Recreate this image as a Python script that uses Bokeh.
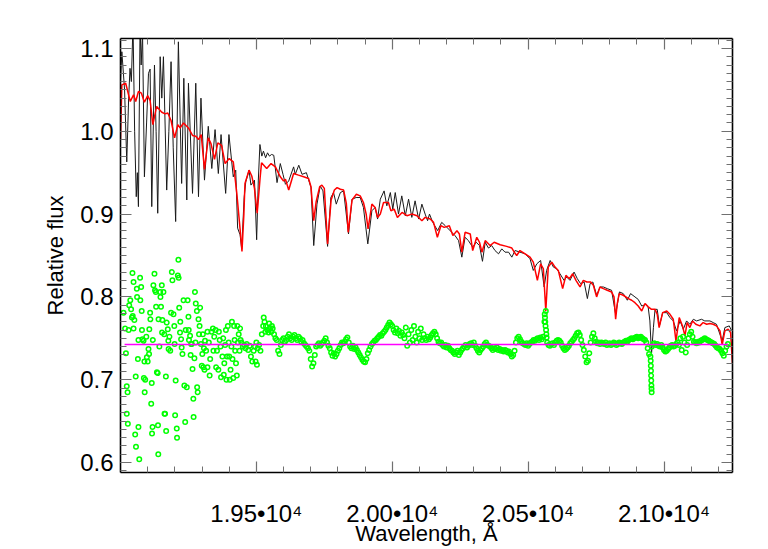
from bokeh.plotting import figure
from bokeh.models import Range1d, LinearAxis, FixedTicker
from bokeh.embed import file_html
from bokeh.resources import INLINE

# ---------------- data ----------------
# observed spectrum (black)
obs_wl = [19000, 19005, 19015, 19023, 19030, 19035, 19040, 19046, 19052, 19058,
          19062, 19066, 19072, 19076, 19081, 19088, 19096, 19103, 19109, 19115,
          19125, 19131, 19137, 19146, 19152, 19158, 19170, 19178, 19186, 19194,
          19203, 19213, 19225, 19233, 19244, 19250, 19265, 19277, 19287, 19296,
          19309, 19323, 19336, 19348, 19360, 19370, 19387, 19399, 19415, 19424,
          19431, 19440, 19446, 19455, 19461, 19473, 19480, 19493, 19501, 19507,
          19513, 19520, 19526, 19534, 19541, 19548, 19556, 19564, 19576, 19588,
          19598, 19607, 19619, 19637, 19643, 19656, 19668, 19684, 19701, 19711,
          19723, 19735, 19745, 19762, 19774, 19784, 19794, 19809, 19821, 19839,
          19852, 19867, 19882, 19894, 19910, 19925, 19937, 19946, 19956, 19970,
          19980, 19993, 20002, 20011, 20023, 20035, 20048, 20060, 20072, 20084,
          20097, 20109, 20121, 20130, 20137, 20149, 20167, 20182, 20195, 20207,
          20219, 20231, 20244, 20256, 20268, 20280, 20296, 20309, 20321, 20332,
          20342, 20354, 20366, 20378, 20391, 20403, 20415, 20428, 20440, 20452,
          20470, 20489, 20507, 20519, 20532, 20546, 20559, 20568, 20581, 20593,
          20605, 20617, 20632, 20642, 20654, 20669, 20681, 20693, 20706, 20718,
          20728, 20738, 20752, 20765, 20777, 20791, 20807, 20822, 20836, 20850,
          20865, 20877, 20893, 20905, 20918, 20934, 20942, 20948, 20954, 20961,
          20967, 20975, 20983, 20995, 21010, 21022, 21034, 21046, 21059, 21071,
          21083, 21095, 21108, 21120, 21138, 21150, 21169, 21181, 21193, 21214,
          21224, 21240, 21249]
obs_flux = [1.060, 1.096, 1.050, 0.963, 1.040, 1.076, 1.060, 1.130, 1.000, 0.921,
            0.950, 0.909, 1.130, 1.080, 1.120, 0.945, 1.010, 1.070, 1.075, 0.909,
            1.080, 1.000, 0.901, 1.090, 1.040, 1.090, 0.929, 1.000, 1.084, 0.980,
            0.891, 1.108, 0.937, 1.064, 0.917, 1.058, 0.925, 1.058, 0.921, 1.040,
            0.941, 1.006, 0.955, 1.002, 0.949, 0.996, 0.925, 0.996, 0.945, 0.953,
            0.883, 0.875, 0.858, 0.920, 0.939, 0.953, 0.935, 0.941, 0.869, 0.940,
            0.984, 0.970, 0.976, 0.968, 0.974, 0.970, 0.972, 0.971, 0.938, 0.961,
            0.948, 0.936, 0.940, 0.957, 0.948, 0.959, 0.948, 0.950, 0.932, 0.862,
            0.912, 0.934, 0.928, 0.861, 0.920, 0.926, 0.912, 0.926, 0.928, 0.876,
            0.918, 0.920, 0.920, 0.908, 0.864, 0.904, 0.908, 0.894, 0.918, 0.928,
            0.910, 0.926, 0.906, 0.926, 0.900, 0.922, 0.898, 0.918, 0.896, 0.916,
            0.894, 0.912, 0.900, 0.892, 0.900, 0.890, 0.880, 0.890, 0.886, 0.882,
            0.878, 0.874, 0.868, 0.848, 0.872, 0.868, 0.860, 0.866, 0.862, 0.843,
            0.866, 0.859, 0.862, 0.856, 0.852, 0.858, 0.854, 0.854, 0.848, 0.856,
            0.854, 0.852, 0.846, 0.832, 0.840, 0.844, 0.812, 0.832, 0.844, 0.836,
            0.834, 0.828, 0.820, 0.824, 0.820, 0.830, 0.822, 0.816, 0.818, 0.798,
            0.816, 0.818, 0.802, 0.812, 0.812, 0.810, 0.808, 0.779, 0.806, 0.804,
            0.796, 0.804, 0.800, 0.797, 0.789, 0.791, 0.787, 0.771, 0.731, 0.763,
            0.785, 0.785, 0.765, 0.781, 0.781, 0.775, 0.771, 0.759, 0.771, 0.761,
            0.771, 0.767, 0.773, 0.771, 0.773, 0.771, 0.771, 0.769, 0.767, 0.747,
            0.763, 0.765, 0.759]

# model spectrum (red)
model_wl = [19000, 19005, 19019, 19036, 19048, 19056, 19066, 19077, 19088, 19100,
            19109, 19119, 19133, 19152, 19164, 19174, 19186, 19199, 19211, 19219,
            19232, 19250, 19265, 19277, 19287, 19297, 19309, 19323, 19333, 19346,
            19358, 19372, 19385, 19400, 19415, 19428, 19440, 19447, 19454, 19458,
            19473, 19483, 19493, 19503, 19514, 19519, 19538, 19554, 19570, 19588,
            19600, 19607, 19619, 19637, 19655, 19674, 19692, 19701, 19711, 19720,
            19733, 19741, 19750, 19762, 19775, 19787, 19797, 19809, 19821, 19831,
            19838, 19852, 19868, 19882, 19894, 19904, 19911, 19925, 19937, 19946,
            19956, 19968, 19986, 19995, 20007, 20019, 20036, 20054, 20072, 20091,
            20109, 20121, 20140, 20152, 20166, 20179, 20191, 20210, 20223, 20238,
            20247, 20256, 20268, 20287, 20296, 20311, 20321, 20330, 20342, 20360,
            20375, 20397, 20421, 20440, 20449, 20458, 20470, 20489, 20507, 20519,
            20534, 20546, 20556, 20565, 20574, 20587, 20599, 20611, 20627, 20639,
            20652, 20664, 20676, 20691, 20703, 20716, 20730, 20740, 20752, 20764,
            20777, 20791, 20807, 20816, 20822, 20828, 20835, 20850, 20869, 20881,
            20893, 20905, 20918, 20930, 20942, 20954, 20967, 20975, 20982, 20995,
            21010, 21022, 21034, 21044, 21056, 21068, 21077, 21085, 21095, 21105,
            21117, 21132, 21144, 21157, 21169, 21181, 21193, 21206, 21214, 21224,
            21236, 21245, 21252]
model_flux = [0.990, 1.056, 1.058, 1.036, 1.044, 1.036, 1.048, 1.046, 1.035, 1.043,
              1.037, 1.008, 1.030, 1.023, 1.021, 1.022, 1.013, 0.992, 1.008, 1.004,
              1.010, 1.004, 0.995, 0.994, 0.990, 0.996, 0.954, 0.992, 0.985, 0.966,
              0.986, 0.983, 0.961, 0.967, 0.963, 0.925, 0.882, 0.855, 0.900, 0.937,
              0.953, 0.946, 0.931, 0.901, 0.945, 0.962, 0.955, 0.961, 0.957, 0.945,
              0.940, 0.942, 0.929, 0.949, 0.947, 0.945, 0.943, 0.933, 0.892, 0.915,
              0.933, 0.935, 0.931, 0.864, 0.917, 0.929, 0.932, 0.930, 0.929, 0.913,
              0.878, 0.917, 0.924, 0.922, 0.914, 0.900, 0.882, 0.912, 0.908, 0.896,
              0.900, 0.914, 0.914, 0.904, 0.906, 0.896, 0.902, 0.898, 0.900, 0.898,
              0.892, 0.896, 0.894, 0.890, 0.872, 0.886, 0.884, 0.886, 0.874, 0.880,
              0.876, 0.854, 0.878, 0.876, 0.856, 0.872, 0.866, 0.854, 0.868, 0.862,
              0.866, 0.863, 0.861, 0.859, 0.854, 0.850, 0.856, 0.852, 0.848, 0.842,
              0.820, 0.840, 0.834, 0.783, 0.836, 0.842, 0.836, 0.832, 0.810, 0.826,
              0.822, 0.828, 0.820, 0.812, 0.820, 0.818, 0.818, 0.814, 0.800, 0.812,
              0.810, 0.808, 0.806, 0.800, 0.773, 0.792, 0.804, 0.802, 0.798, 0.796,
              0.793, 0.789, 0.783, 0.792, 0.788, 0.785, 0.785, 0.779, 0.763, 0.781,
              0.783, 0.779, 0.773, 0.747, 0.775, 0.765, 0.753, 0.769, 0.763, 0.771,
              0.767, 0.765, 0.769, 0.767, 0.768, 0.767, 0.765, 0.759, 0.742, 0.759,
              0.761, 0.757, 0.719]

# residuals (green) - scattered samples
resid_wl = [19011, 19017, 19020, 19023, 19026, 19023, 19027, 19032, 19036, 19039,
            19042, 19044, 19048, 19045, 19051, 19054, 19056, 19057, 19060, 19061,
            19064, 19066, 19069, 19072, 19073, 19076, 19078, 19079, 19081, 19085,
            19088, 19086, 19091, 19089, 19097, 19100, 19103, 19105, 19109, 19110,
            19106, 19113, 19115, 19116, 19118, 19121, 19125, 19127, 19130, 19131,
            19134, 19137, 19138, 19139, 19140, 19146, 19147, 19149, 19152, 19153,
            19154, 19158, 19162, 19164, 19167, 19168, 19170, 19174, 19176, 19177,
            19183, 19186, 19189, 19191, 19195, 19198, 19201, 19203, 19207, 19208,
            19211, 19213, 19214, 19216, 19219, 19223, 19225, 19228, 19232, 19235,
            19238, 19244, 19247, 19250, 19251, 19252, 19256, 19260, 19262, 19265,
            19268, 19269, 19272, 19274, 19277, 19281, 19282, 19284, 19287, 19289,
            19293, 19296, 19299, 19301, 19305, 19309, 19311,
            19030, 19048, 19066, 19095, 19119, 19143, 19161, 19180, 19199, 19220,
            19240, 19258, 19276, 19291, 19303, 19307,
            19320, 19328, 19342, 19352, 19362, 19368, 19378, 19382, 19388, 19392,
            19398, 19402, 19408, 19412, 19418, 19422, 19428, 19432, 19438, 19442,
            19497, 19502, 19527, 19533, 19547, 19557,
            20561, 20562, 20563, 20564, 20566, 20567, 20568,
            20951, 20951.5, 20952, 20952.5, 20953, 20953.5, 20954, 20954.5]
resid_flux = [0.781, 0.762, 0.732, 0.692, 0.685, 0.659, 0.647, 0.790, 0.796, 0.785,
              0.775, 0.829, 0.818, 0.777, 0.772, 0.634, 0.704, 0.619, 0.810, 0.800,
              0.725, 0.643, 0.604, 0.823, 0.796, 0.812, 0.783, 0.760, 0.749, 0.747,
              0.722, 0.702, 0.700, 0.685, 0.727, 0.722, 0.737, 0.731, 0.781, 0.773,
              0.761, 0.671, 0.696, 0.635, 0.643, 0.814, 0.828, 0.808, 0.806, 0.788,
              0.709, 0.708, 0.645, 0.610, 0.773, 0.806, 0.800, 0.788, 0.814, 0.757,
              0.772, 0.806, 0.659, 0.659, 0.704, 0.638, 0.769, 0.761, 0.747, 0.737,
              0.735, 0.781, 0.830, 0.820, 0.779, 0.765, 0.657, 0.699, 0.641, 0.630,
              0.826, 0.845, 0.823, 0.787, 0.757, 0.749, 0.739, 0.731, 0.796, 0.693,
              0.649, 0.691, 0.796, 0.776, 0.760, 0.748, 0.753, 0.743, 0.743, 0.713,
              0.677, 0.655, 0.726, 0.806, 0.792, 0.783, 0.691, 0.685, 0.773, 0.755,
              0.787, 0.743, 0.717, 0.731, 0.715, 0.712, 0.747,
              0.760, 0.762, 0.748, 0.752, 0.748, 0.740, 0.755, 0.752, 0.743, 0.770,
              0.760, 0.730, 0.745, 0.765, 0.755, 0.738,
              0.758, 0.705, 0.735, 0.715, 0.758, 0.740, 0.750, 0.720, 0.760, 0.728,
              0.745, 0.700, 0.740, 0.725, 0.765, 0.735, 0.705, 0.745, 0.735, 0.748,
              0.722, 0.718, 0.775, 0.758, 0.768, 0.765,
              0.779, 0.775, 0.770, 0.765, 0.760, 0.755, 0.751,
              0.723, 0.717, 0.711, 0.705, 0.699, 0.693, 0.689, 0.685]

# residuals (green) - regularly sampled band, 5 A steps from 19315 A
band_start, band_step = 19315, 5
band_flux = [
    0.735, 0.715, 0.745, 0.725, 0.758, 0.762, 0.752, 0.760, 0.735, 0.712,
    0.748, 0.703, 0.728, 0.706, 0.742, 0.700, 0.765, 0.728, 0.712, 0.770,
    0.702, 0.748, 0.720, 0.765, 0.755, 0.762, 0.745, 0.740, 0.742, 0.738,
    0.743, 0.736, 0.741, 0.728, 0.722, 0.735, 0.740, 0.745, 0.738, 0.742,
    0.735, 0.755, 0.765, 0.770, 0.765, 0.760, 0.757, 0.762, 0.758, 0.762,
    0.755, 0.750, 0.748, 0.735, 0.731, 0.742, 0.748, 0.750, 0.746, 0.748,
    0.752, 0.755, 0.750, 0.748, 0.752, 0.754, 0.750, 0.748, 0.752, 0.750,
    0.746, 0.748, 0.744, 0.742, 0.740, 0.738, 0.735, 0.725, 0.716, 0.720,
    0.730, 0.740, 0.742, 0.744, 0.741, 0.743, 0.745, 0.747, 0.750, 0.745,
    0.741, 0.738, 0.733, 0.729, 0.732, 0.728, 0.731, 0.735, 0.738, 0.742,
    0.745, 0.744, 0.746, 0.749, 0.751, 0.745, 0.740, 0.738, 0.741, 0.737,
    0.739, 0.736, 0.733, 0.730, 0.727, 0.724, 0.722, 0.721, 0.725, 0.732,
    0.736, 0.740, 0.743, 0.745, 0.747, 0.748, 0.750, 0.752, 0.754, 0.753,
    0.756, 0.758, 0.760, 0.763, 0.766, 0.769, 0.767, 0.765, 0.760, 0.757,
    0.762, 0.756, 0.759, 0.753, 0.757, 0.754, 0.750, 0.763, 0.741, 0.755,
    0.745, 0.760, 0.748, 0.765, 0.752, 0.745, 0.758, 0.750, 0.762, 0.748,
    0.755, 0.750, 0.748, 0.752, 0.749, 0.751, 0.754, 0.756, 0.758, 0.755,
    0.750, 0.746, 0.744, 0.745, 0.742, 0.740, 0.742, 0.739, 0.741, 0.738,
    0.736, 0.735, 0.733, 0.731, 0.733, 0.735, 0.730, 0.733, 0.736, 0.738,
    0.740, 0.742, 0.739, 0.741, 0.743, 0.744, 0.742, 0.745, 0.741, 0.738,
    0.735, 0.733, 0.736, 0.738, 0.740, 0.743, 0.745, 0.742, 0.741, 0.740,
    0.738, 0.736, 0.738, 0.737, 0.739, 0.736, 0.737, 0.735, 0.736, 0.734,
    0.736, 0.735, 0.733, 0.734, 0.731, 0.728, 0.730, 0.735, 0.745, 0.750,
    0.752, 0.749, 0.746, 0.744, 0.743, 0.742, 0.744, 0.741, 0.743, 0.745,
    0.746, 0.748, 0.747, 0.749, 0.750, 0.748, 0.751, 0.749, 0.752, 0.770,
    0.783, 0.745, 0.742, 0.741, 0.743, 0.744, 0.742, 0.745, 0.747, 0.748,
    0.747, 0.745, 0.741, 0.738, 0.736, 0.737, 0.739, 0.741, 0.744, 0.746,
    0.748, 0.750, 0.753, 0.756, 0.757, 0.754, 0.748, 0.742, 0.736, 0.728,
    0.721, 0.723, 0.732, 0.745, 0.752, 0.756, 0.750, 0.746, 0.744, 0.745,
    0.743, 0.745, 0.744, 0.743, 0.745, 0.742, 0.743, 0.744, 0.742, 0.743,
    0.745, 0.744, 0.742, 0.743, 0.745, 0.744, 0.743, 0.745, 0.746, 0.747,
    0.746, 0.748, 0.749, 0.750, 0.749, 0.750, 0.751, 0.752, 0.750, 0.751,
    0.752, 0.750, 0.749, 0.748, 0.745, 0.738, 0.731, 0.728, 0.740, 0.743,
    0.744, 0.742, 0.743, 0.741, 0.740, 0.742, 0.739, 0.736, 0.734, 0.735,
    0.737, 0.739, 0.741, 0.742, 0.740, 0.741, 0.743, 0.745, 0.742, 0.750,
    0.736, 0.752, 0.745, 0.733, 0.742, 0.750, 0.755, 0.758, 0.752, 0.746,
    0.745, 0.744, 0.746, 0.745, 0.747, 0.748, 0.749, 0.750, 0.749, 0.748,
    0.747, 0.746, 0.745, 0.744, 0.743, 0.741, 0.739, 0.738, 0.737, 0.735,
    0.732, 0.729, 0.735, 0.740, 0.743]
band_wl = [band_start + band_step * i for i in range(len(band_flux))]

# residual zero level (magenta)
zero_wl = [19015, 21235]
zero_level = [0.7424, 0.7424]

# axis ticks
x_major = [19500, 20000, 20500, 21000]
x_major_labels = ["1.95\u202210\u2074", "2.00\u202210\u2074", "2.05\u202210\u2074", "2.10\u202210\u2074"]
x_minor = [19100 + 100 * i for i in range(22)]
y_major = [0.6, 0.7, 0.8, 0.9, 1.0, 1.1]
y_major_labels = ["0.6", "0.7", "0.8", "0.9", "1.0", "1.1"]
y_minor = [round(0.59 + 0.01 * i, 2) for i in range(53)]

FONT = "Liberation Sans"

p = figure(frame_width=612, frame_height=434,
           x_range=Range1d(19000, 21252), y_range=Range1d(0.588, 1.112),
           output_backend="svg", toolbar_location=None,
           x_axis_location=None, y_axis_location=None,
           min_border_left=120, min_border_right=20, min_border_top=38, min_border_bottom=76)
p.xgrid.visible = False
p.ygrid.visible = False
p.outline_line_color = None
p.background_fill_color = "white"
p.border_fill_color = "white"


def style_axis(ax, ticks, minor, labels, show):
    ax.ticker = FixedTicker(ticks=ticks, minor_ticks=minor)
    ax.major_tick_in = 11
    ax.major_tick_out = 0
    ax.minor_tick_in = 6
    ax.minor_tick_out = 0
    ax.axis_line_color = "black"
    ax.axis_line_width = 1.6
    ax.major_tick_line_color = "#707070"
    ax.minor_tick_line_color = "#707070"
    ax.major_tick_line_width = 1.2
    ax.minor_tick_line_width = 1.0
    if show:
        ax.major_label_overrides = dict(zip(ticks, labels))
        ax.major_label_text_font = FONT
        ax.major_label_text_font_size = "24px"
        ax.major_label_text_color = "black"
    else:
        ax.major_label_text_color = None
        ax.major_label_text_alpha = 0
        ax.major_label_text_font_size = "8px"
        ax.major_label_standoff = 0
    ax.axis_label_text_font = FONT
    ax.axis_label_text_font_size = "22px"
    ax.axis_label_text_font_style = "normal"
    ax.axis_label_text_color = "black"


xb = LinearAxis(axis_label="Wavelength, \u00c5")
style_axis(xb, x_major, x_minor, x_major_labels, True)
xb.major_label_standoff = 27
xb.axis_label_standoff = -9
p.add_layout(xb, "below")

xt = LinearAxis()
style_axis(xt, x_major, x_minor, x_major_labels, False)
p.add_layout(xt, "above")

yl = LinearAxis(axis_label="Relative flux")
style_axis(yl, y_major, y_minor, y_major_labels, True)
yl.major_label_standoff = 7
yl.axis_label_standoff = 9
p.add_layout(yl, "left")

yr = LinearAxis()
style_axis(yr, y_major, y_minor, y_major_labels, False)
p.add_layout(yr, "right")

p.line(obs_wl, obs_flux, line_color="#1a1a1a", line_width=1.0)
p.line(model_wl, model_flux, line_color="#ff0000", line_width=1.5)
p.scatter(band_wl, band_flux, marker="circle", size=4.5, fill_color=None,
          line_color="#00ff00", line_width=1.5)
p.scatter(resid_wl, resid_flux, marker="circle", size=4.5, fill_color=None,
          line_color="#00ff00", line_width=1.5)
p.line(zero_wl, zero_level, line_color="#ff00ff", line_width=1.5)

open("out.html", "w").write(file_html(p, INLINE))
